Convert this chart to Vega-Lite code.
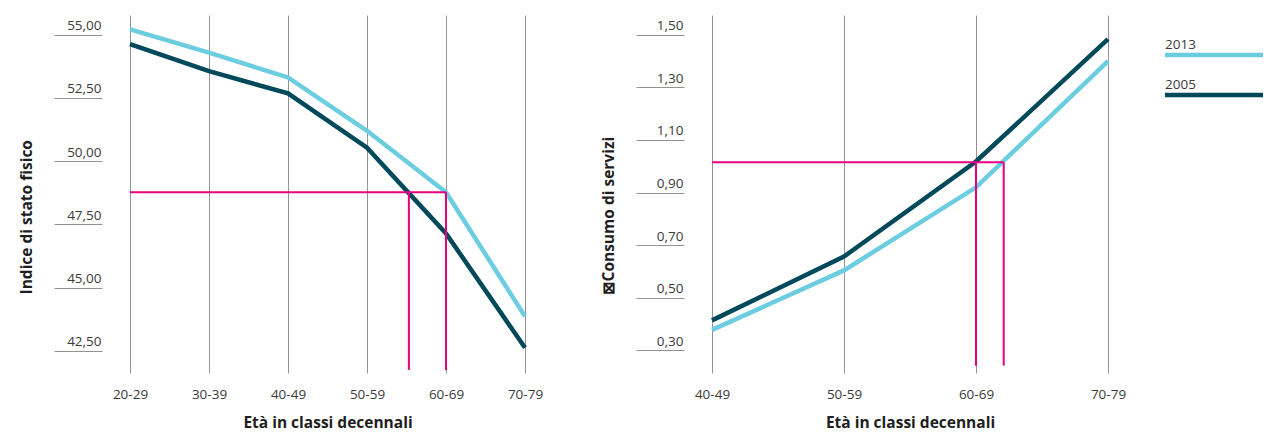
{
  "$schema": "https://vega.github.io/schema/vega-lite/v6.json",
  "padding": {"left": 19, "top": 15, "right": 0, "bottom": 4},
  "background": "white",
  "config": {
    "view": {"stroke": null},
    "font": "Open Sans",
    "axis": {
      "labelFont": "Open Sans",
      "labelFontSize": 13.5,
      "labelColor": "#3a3a3a",
      "titleFont": "Open Sans",
      "titleFontSize": 15.5,
      "titleFontWeight": "bold",
      "titleColor": "#1e1e1e"
    }
  },
  "datasets": {
    "fisico": [
      {"anno": "2013", "eta": 20, "valore": 55.21},
      {"anno": "2013", "eta": 30, "valore": 54.29},
      {"anno": "2013", "eta": 40, "valore": 53.31},
      {"anno": "2013", "eta": 50, "valore": 51.2},
      {"anno": "2013", "eta": 60, "valore": 48.77},
      {"anno": "2013", "eta": 70, "valore": 43.86},
      {"anno": "2005", "eta": 20, "valore": 54.63},
      {"anno": "2005", "eta": 30, "valore": 53.56},
      {"anno": "2005", "eta": 40, "valore": 52.68},
      {"anno": "2005", "eta": 50, "valore": 50.53},
      {"anno": "2005", "eta": 60, "valore": 47.14},
      {"anno": "2005", "eta": 70, "valore": 42.62}
    ],
    "servizi": [
      {"anno": "2013", "eta": 40, "valore": 0.378},
      {"anno": "2013", "eta": 50, "valore": 0.604},
      {"anno": "2013", "eta": 60, "valore": 0.92},
      {"anno": "2013", "eta": 70, "valore": 1.40},
      {"anno": "2005", "eta": 40, "valore": 0.414},
      {"anno": "2005", "eta": 50, "valore": 0.657},
      {"anno": "2005", "eta": 60, "valore": 1.018},
      {"anno": "2005", "eta": 70, "valore": 1.483}
    ],
    "rif_fisico": [
      {"x1": 20, "x2": 60, "y1": 48.77, "y2": 48.77},
      {"x1": 55.3, "x2": 55.3, "y1": 48.77, "y2": 41.74},
      {"x1": 60, "x2": 60, "y1": 48.77, "y2": 41.74}
    ],
    "rif_servizi": [
      {"x1": 40, "x2": 62.1, "y1": 1.015, "y2": 1.015},
      {"x1": 60, "x2": 60, "y1": 1.015, "y2": 0.242},
      {"x1": 62.1, "x2": 62.1, "y1": 1.015, "y2": 0.242}
    ],
    "legenda": [
      {"anno": "2013"},
      {"anno": "2005"}
    ]
  },
  "hconcat": [
    {
      "spacing": 58,
      "hconcat": [
        {
          "width": 395,
          "height": 358,
          "layer": [
            {
              "data": {"name": "fisico"},
              "mark": {"type": "line", "strokeWidth": 4.5},
              "encoding": {
                "x": {
                  "field": "eta", "type": "quantitative",
                  "scale": {"domain": [20, 70], "nice": false, "zero": false},
                  "axis": {
                    "values": [20, 30, 40, 50, 60, 70],
                    "labelExpr": "datum.value + '-' + (datum.value + 9)",
                    "grid": true, "gridColor": "#939393", "gridWidth": 1, "gridOpacity": 1,
                    "domain": false, "ticks": false,
                    "labelPadding": 14, "labelFlush": false, "labelOverlap": false,
                    "title": "Età in classi decennali", "titlePadding": 15
                  }
                },
                "y": {
                  "field": "valore", "type": "quantitative",
                  "scale": {"domain": [41.62, 55.78], "nice": false, "zero": false},
                  "axis": {
                    "values": [42.5, 45, 47.5, 50, 52.5, 55],
                    "labelExpr": "replace(format(datum.value, '.2f'), '.', ',')",
                    "offset": 28, "tickSize": 48, "tickColor": "#939393", "tickWidth": 1,
                    "domain": false, "grid": false,
                    "labelPadding": -47, "labelAlign": "right", "labelBaseline": "alphabetic", "labelOffset": -5,
                    "title": "Indice di stato fisico", "titlePadding": 19, "titleAlign": "left", "titleY": 279
                  }
                },
                "color": {
                  "field": "anno", "type": "nominal",
                  "scale": {"domain": ["2013", "2005"], "range": ["#6dcde0", "#00495a"]},
                  "legend": null
                }
              }
            },
            {
              "data": {"name": "rif_fisico"},
              "mark": {"type": "rule", "color": "#e6007e", "strokeWidth": 2},
              "encoding": {
                "x": {"field": "x1", "type": "quantitative"},
                "x2": {"field": "x2"},
                "y": {"field": "y1", "type": "quantitative"},
                "y2": {"field": "y2"}
              }
            }
          ]
        },
        {
          "width": 396,
          "height": 358,
          "layer": [
            {
              "data": {"name": "servizi"},
              "mark": {"type": "line", "strokeWidth": 4.5},
              "encoding": {
                "x": {
                  "field": "eta", "type": "quantitative",
                  "scale": {"domain": [40, 70], "nice": false, "zero": false},
                  "axis": {
                    "values": [40, 50, 60, 70],
                    "labelExpr": "datum.value + '-' + (datum.value + 9)",
                    "grid": true, "gridColor": "#939393", "gridWidth": 1, "gridOpacity": 1,
                    "domain": false, "ticks": false,
                    "labelPadding": 14, "labelFlush": false, "labelOverlap": false,
                    "title": "Età in classi decennali", "titlePadding": 15
                  }
                },
                "y": {
                  "field": "valore", "type": "quantitative",
                  "scale": {"domain": [0.214, 1.575], "nice": false, "zero": false},
                  "axis": {
                    "values": [0.3, 0.5, 0.7, 0.9, 1.1, 1.3, 1.5],
                    "labelExpr": "replace(format(datum.value, '.2f'), '.', ',')",
                    "offset": 28, "tickSize": 48, "tickColor": "#939393", "tickWidth": 1,
                    "domain": false, "grid": false,
                    "labelPadding": -47, "labelAlign": "right", "labelBaseline": "alphabetic", "labelOffset": -5,
                    "title": "⊠Consumo di servizi", "titlePadding": 19, "titleAlign": "left", "titleY": 279
                  }
                },
                "color": {"field": "anno", "type": "nominal", "legend": null}
              }
            },
            {
              "data": {"name": "rif_servizi"},
              "mark": {"type": "rule", "color": "#e6007e", "strokeWidth": 2},
              "encoding": {
                "x": {"field": "x1", "type": "quantitative"},
                "x2": {"field": "x2"},
                "y": {"field": "y1", "type": "quantitative"},
                "y2": {"field": "y2"}
              }
            }
          ]
        }
      ]
    },
    {
      "width": 98,
      "height": 120,
      "data": {"name": "legenda"},
      "layer": [
        {
          "mark": {"type": "rule", "strokeWidth": 4.5},
          "encoding": {
            "x": {"datum": 0, "type": "quantitative", "scale": {"domain": [0, 1], "nice": false}, "axis": null},
            "x2": {"datum": 1},
            "y": {"field": "anno", "type": "nominal", "scale": {"type": "point", "domain": ["2013", "2005"], "padding": 1.05}, "axis": null},
            "color": {"field": "anno", "type": "nominal", "legend": null}
          }
        },
        {
          "mark": {"type": "text", "align": "left", "baseline": "alphabetic", "dy": -6, "fontSize": 13.5, "font": "Open Sans", "color": "#3a3a3a"},
          "encoding": {
            "x": {"datum": 0, "type": "quantitative"},
            "y": {"field": "anno", "type": "nominal"},
            "text": {"field": "anno"}
          }
        }
      ]
    }
  ],
  "spacing": 36
}
